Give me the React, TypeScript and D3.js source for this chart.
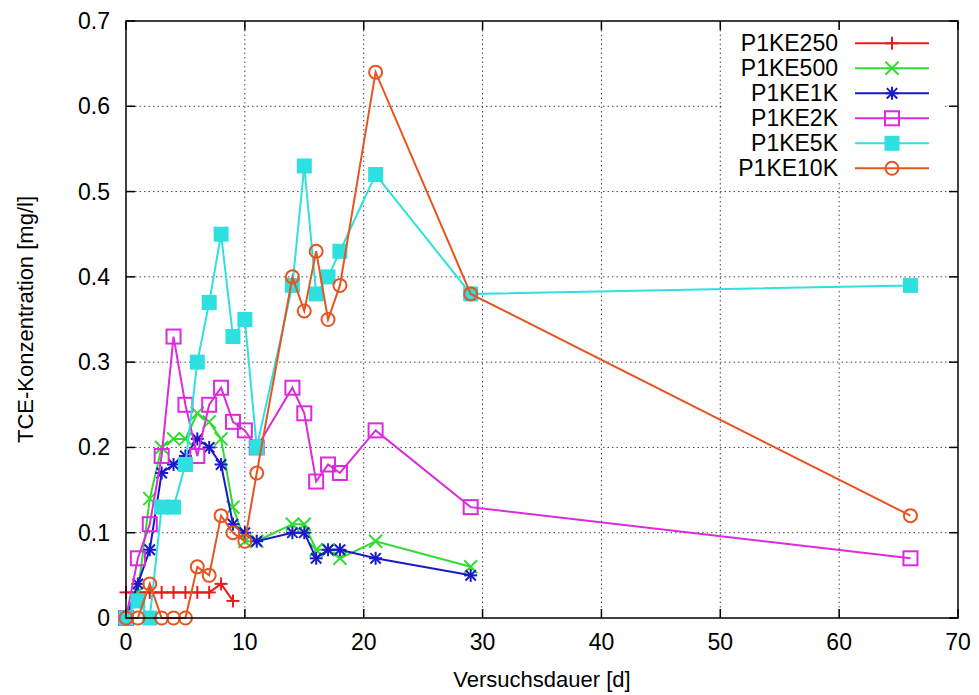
import React, { useEffect, useRef } from 'react'
import * as d3 from 'd3'

// Data
const days = [0, 1, 2, 3, 4, 5, 6, 7, 8, 9, 10, 11, 14, 15, 16, 17, 18, 21, 29, 66]
const p1ke250 = [0.03, 0.03, 0.03, 0.03, 0.03, 0.03, 0.03, 0.03, 0.04, 0.02]
const p1ke500 = [0, 0.03, 0.14, 0.2, 0.21, 0.21, 0.24, 0.23, 0.21, 0.13, 0.09, 0.09, 0.11, 0.11, 0.08, 0.08, 0.07, 0.09, 0.06]
const p1ke1k = [0, 0.04, 0.08, 0.17, 0.18, 0.19, 0.21, 0.2, 0.18, 0.11, 0.1, 0.09, 0.1, 0.1, 0.07, 0.08, 0.08, 0.07, 0.05]
const p1ke2k = [0, 0.07, 0.11, 0.19, 0.33, 0.25, 0.19, 0.25, 0.27, 0.23, 0.22, 0.2, 0.27, 0.24, 0.16, 0.18, 0.17, 0.22, 0.13, 0.07]
const p1ke5k = [0, 0.02, 0, 0.13, 0.13, 0.18, 0.3, 0.37, 0.45, 0.33, 0.35, 0.2, 0.39, 0.53, 0.38, 0.4, 0.43, 0.52, 0.38, 0.39]
const p1ke10k = [0, 0, 0.04, 0, 0, 0, 0.06, 0.05, 0.12, 0.1, 0.09, 0.17, 0.4, 0.36, 0.43, 0.35, 0.39, 0.64, 0.38, 0.12]

const seriesNames = ['P1KE250', 'P1KE500', 'P1KE1K', 'P1KE2K', 'P1KE5K', 'P1KE10K']
const seriesValues = [p1ke250, p1ke500, p1ke1k, p1ke2k, p1ke5k, p1ke10k]
const seriesColors = ['#e81c1c', '#2fdc2f', '#1a1ac8', '#dc2adc', '#2ee0e0', '#e65520']
const seriesMarkers = ['plus', 'cross', 'star', 'square', 'filledSquare', 'circle']

const xTicks = [0, 10, 20, 30, 40, 50, 60, 70]
const yTicks = [0, 0.1, 0.2, 0.3, 0.4, 0.5, 0.6, 0.7]

const FONT = '"Liberation Sans", Arial, Helvetica, sans-serif'

function drawMarker(g: any, type: string, color: string) {
  const s = 6.5
  if (type === 'plus' || type === 'star') {
    g.append('line').attr('x1', -s).attr('x2', s).attr('y1', 0).attr('y2', 0)
    g.append('line').attr('x1', 0).attr('x2', 0).attr('y1', -s).attr('y2', s)
  }
  if (type === 'cross' || type === 'star') {
    const d = type === 'star' ? s * 0.8 : s
    g.append('line').attr('x1', -d).attr('x2', d).attr('y1', -d).attr('y2', d)
    g.append('line').attr('x1', -d).attr('x2', d).attr('y1', d).attr('y2', -d)
  }
  if (type === 'square') {
    g.append('rect').attr('x', -7).attr('y', -7).attr('width', 14).attr('height', 14).attr('fill', 'none')
  }
  if (type === 'filledSquare') {
    g.append('rect').attr('x', -6.5).attr('y', -6.5).attr('width', 13).attr('height', 13).attr('fill', color)
  }
  if (type === 'circle') {
    g.append('circle').attr('r', 6.5).attr('fill', 'none')
  }
  g.attr('stroke', color).attr('stroke-width', 2)
}

export default function App() {
  const ref = useRef<SVGSVGElement>(null)

  useEffect(() => {
    const svg = d3.select(ref.current)
    svg.selectAll('*').remove()

    const left = 126
    const right = 958
    const top = 21
    const bottom = 618

    const x = d3.scaleLinear().domain([0, 70]).range([left, right])
    const y = d3.scaleLinear().domain([0, 0.7]).range([bottom, top])

    // Grid
    const grid = svg.append('g').attr('stroke', '#444').attr('stroke-width', 1).attr('stroke-dasharray', '1.5,3')
    xTicks.slice(1, -1).forEach(t => {
      grid.append('line').attr('x1', x(t)).attr('x2', x(t)).attr('y1', top).attr('y2', bottom)
    })
    yTicks.slice(1, -1).forEach(t => {
      grid.append('line').attr('x1', left).attr('x2', right).attr('y1', y(t)).attr('y2', y(t))
    })

    // Legend background (hides grid)
    svg.append('rect').attr('x', 722).attr('y', 30).attr('width', 220).attr('height', 150).attr('fill', 'white')

    // Ticks (inward, mirrored)
    const ticks = svg.append('g').attr('stroke', '#000').attr('stroke-width', 1.5)
    xTicks.forEach(t => {
      ticks.append('line').attr('x1', x(t)).attr('x2', x(t)).attr('y1', bottom).attr('y2', bottom - 9)
      ticks.append('line').attr('x1', x(t)).attr('x2', x(t)).attr('y1', top).attr('y2', top + 9)
    })
    yTicks.forEach(t => {
      ticks.append('line').attr('x1', left).attr('x2', left + 9).attr('y1', y(t)).attr('y2', y(t))
      ticks.append('line').attr('x1', right).attr('x2', right - 9).attr('y1', y(t)).attr('y2', y(t))
    })

    // Tick labels
    svg.append('g')
      .selectAll('text')
      .data(xTicks)
      .enter()
      .append('text')
      .attr('x', d => x(d))
      .attr('y', 650)
      .attr('text-anchor', 'middle')
      .attr('font-family', FONT)
      .attr('font-size', 23)
      .text(d => String(d))

    svg.append('g')
      .selectAll('text')
      .data(yTicks)
      .enter()
      .append('text')
      .attr('x', 110)
      .attr('y', d => y(d) + 8)
      .attr('text-anchor', 'end')
      .attr('font-family', FONT)
      .attr('font-size', 23)
      .text(d => (d === 0 ? '0' : d3.format('.1f')(d)))

    // Axis titles
    svg.append('text')
      .attr('x', (left + right) / 2)
      .attr('y', 687)
      .attr('text-anchor', 'middle')
      .attr('font-family', FONT)
      .attr('font-size', 22)
      .text('Versuchsdauer [d]')

    svg.append('text')
      .attr('transform', `translate(33, ${(top + bottom) / 2}) rotate(-90)`)
      .attr('text-anchor', 'middle')
      .attr('font-family', FONT)
      .attr('font-size', 22)
      .text('TCE-Konzentration [mg/l]')

    // Series
    const line = d3.line<[number, number]>().x(d => x(d[0])).y(d => y(d[1]))
    seriesValues.forEach((vals, i) => {
      const pts: [number, number][] = vals.map((v, j) => [days[j], v])
      const color = seriesColors[i]
      const g = svg.append('g')
      g.append('path')
        .attr('d', line(pts))
        .attr('fill', 'none')
        .attr('stroke', color)
        .attr('stroke-width', 2)
      pts.forEach(p => {
        const m = g.append('g').attr('transform', `translate(${x(p[0])},${y(p[1])})`)
        drawMarker(m, seriesMarkers[i], color)
      })
    })

    // Legend
    seriesNames.forEach((name, i) => {
      const ly = 43.3 + i * 25
      svg.append('text')
        .attr('x', 838)
        .attr('y', ly + 8)
        .attr('text-anchor', 'end')
        .attr('font-family', FONT)
        .attr('font-size', 23)
        .text(name)
      svg.append('line')
        .attr('x1', 855).attr('x2', 929).attr('y1', ly).attr('y2', ly)
        .attr('stroke', seriesColors[i]).attr('stroke-width', 2)
      const m = svg.append('g').attr('transform', `translate(892,${ly})`)
      drawMarker(m, seriesMarkers[i], seriesColors[i])
    })

    // Frame
    svg.append('rect')
      .attr('x', left).attr('y', top)
      .attr('width', right - left).attr('height', bottom - top)
      .attr('fill', 'none').attr('stroke', '#000').attr('stroke-width', 1.5)
  }, [])

  return (
    <svg
      ref={ref}
      width={979}
      height={695}
      style={{ position: 'absolute', left: 0, top: 0, background: 'white' }}
    />
  )
}
